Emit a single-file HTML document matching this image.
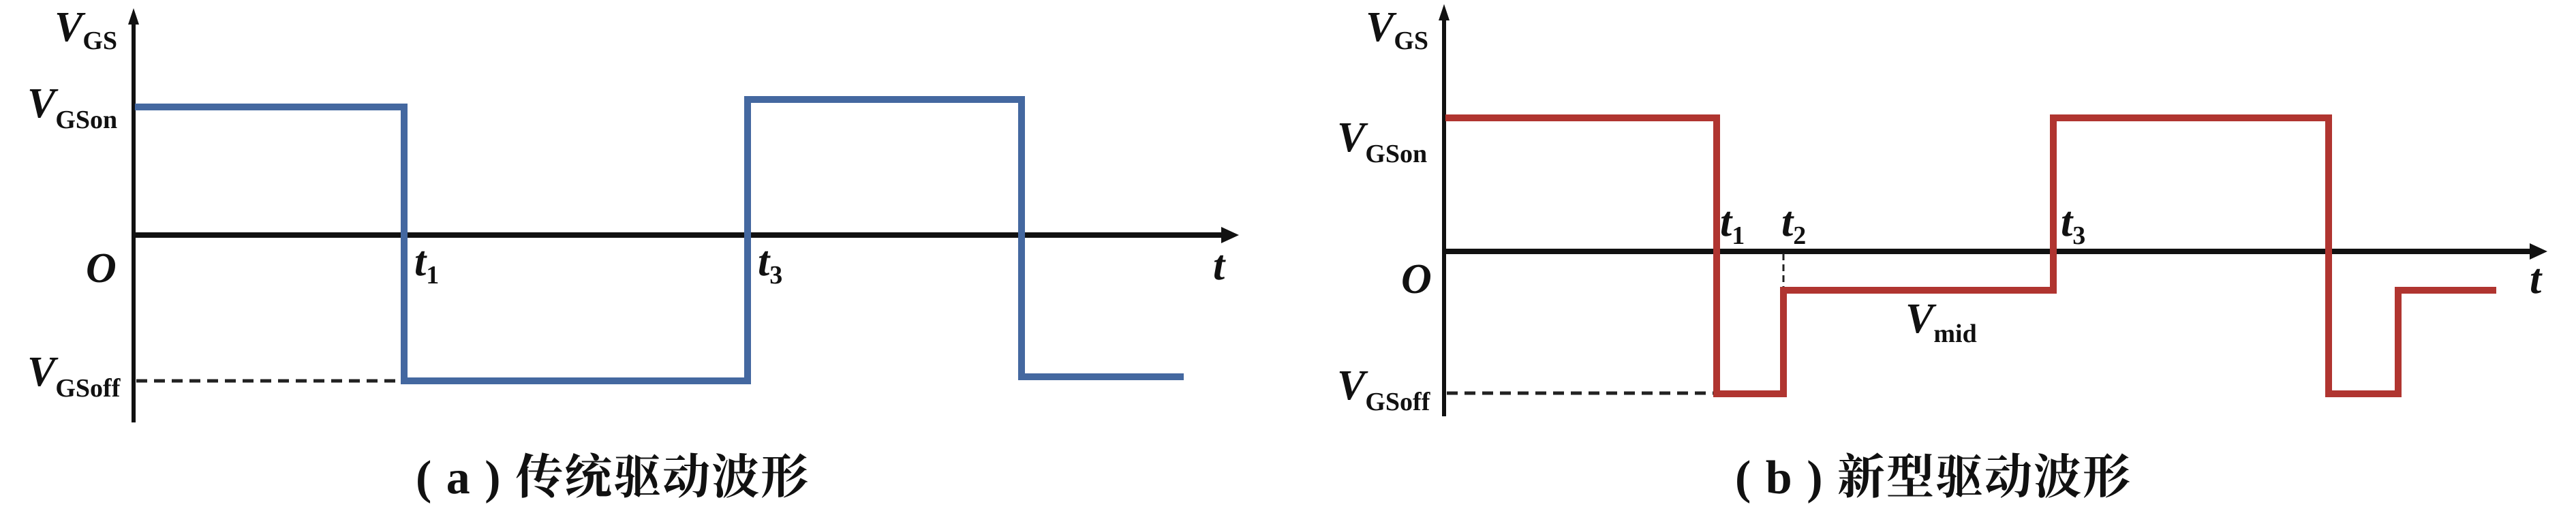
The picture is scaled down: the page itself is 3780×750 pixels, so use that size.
<!DOCTYPE html>
<html><head><meta charset="utf-8"><style>
html,body{margin:0;padding:0;background:#fff;}
svg{display:block;}
.v{font-family:"Liberation Serif",serif;font-style:italic;font-weight:bold;font-size:62px;fill:#111;}
.s{font-family:"Liberation Serif",serif;font-style:normal;font-weight:bold;font-size:38px;fill:#111;}
.c{font-family:"Liberation Serif","Noto Serif CJK SC",serif;font-size:70px;letter-spacing:2px;font-weight:bold;fill:#111;}
</style></head><body>
<svg width="3780" height="750" viewBox="0 0 3780 750" xmlns="http://www.w3.org/2000/svg">
<!-- Panel a -->
<line x1="196" y1="30" x2="196" y2="620" stroke="#111" stroke-width="6"/>
<polygon points="196,12 188,36 204,36" fill="#111"/>
<line x1="196" y1="345" x2="1800" y2="345" stroke="#111" stroke-width="8"/>
<polygon points="1818,345 1792,333 1792,357" fill="#111"/>
<line x1="200" y1="559" x2="593" y2="559" stroke="#222" stroke-width="5" stroke-dasharray="16,10"/>
<polyline points="198,157 593,157 593,559 1097,559 1097,146 1499,146 1499,553 1737,553" fill="none" stroke="#4468a0" stroke-width="10"/>
<text class="v" x="80" y="60">V<tspan class="s" dy="12">GS</tspan></text>
<text class="v" x="40" y="172">V<tspan class="s" dy="16">GSon</tspan></text>
<text class="v" x="126" y="414">O</text>
<text class="v" x="608" y="404">t<tspan class="s" dy="12">1</tspan></text>
<text class="v" x="1112" y="404">t<tspan class="s" dy="12">3</tspan></text>
<text class="v" x="1780" y="410">t</text>
<text class="v" x="40" y="566">V<tspan class="s" dy="16">GSoff</tspan></text>
<text class="c" x="610" y="724">( a ) 传统驱动波形</text>
<!-- Panel b -->
<line x1="2119" y1="24" x2="2119" y2="611" stroke="#111" stroke-width="6"/>
<polygon points="2119,6 2111,30 2127,30" fill="#111"/>
<line x1="2119" y1="369" x2="3720" y2="369" stroke="#111" stroke-width="8"/>
<polygon points="3738,369 3712,357 3712,381" fill="#111"/>
<line x1="2123" y1="577" x2="2519" y2="577" stroke="#222" stroke-width="5" stroke-dasharray="16,10"/>
<line x1="2617" y1="372" x2="2617" y2="426" stroke="#222" stroke-width="3" stroke-dasharray="10,6"/>
<polyline points="2121,173 2519,173 2519,578 2617,578 2617,426 3013,426 3013,173 3417,173 3417,578 3519,578 3519,426 3663,426" fill="none" stroke="#b03530" stroke-width="10"/>
<text class="v" x="2004" y="60">V<tspan class="s" dy="12">GS</tspan></text>
<text class="v" x="1962" y="222">V<tspan class="s" dy="16">GSon</tspan></text>
<text class="v" x="2056" y="430">O</text>
<text class="v" x="2524" y="346">t<tspan class="s" dy="12">1</tspan></text>
<text class="v" x="2614" y="346">t<tspan class="s" dy="12">2</tspan></text>
<text class="v" x="3024" y="346">t<tspan class="s" dy="12">3</tspan></text>
<text class="v" x="3712" y="430">t</text>
<text class="v" x="2796" y="488">V<tspan class="s" dy="14">mid</tspan></text>
<text class="v" x="1962" y="586">V<tspan class="s" dy="16">GSoff</tspan></text>
<text class="c" x="2546" y="724">( b ) 新型驱动波形</text>
</svg>
</body></html>
